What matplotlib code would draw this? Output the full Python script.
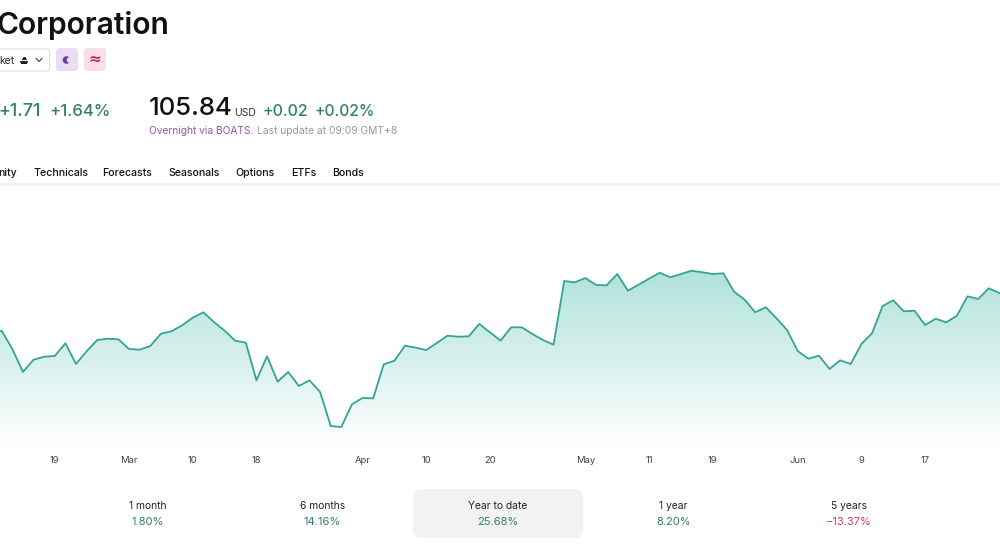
import matplotlib
matplotlib.use('Agg')
import matplotlib.pyplot as plt
import numpy as np
from matplotlib.colors import LinearSegmentedColormap
from matplotlib.patches import Circle, FancyBboxPatch, Polygon, Rectangle

plt.rcParams['font.family'] = ['Inter', 'DejaVu Sans']

# chart level above the baseline, one value per session
levels = [112, 116.3, 98, 75, 87.3, 90.3, 91, 103.7, 83, 95.7, 107, 108.3, 107.7, 98, 97.3, 101,
          113.3, 115.7, 121.7, 129.3, 134.7, 125, 116.3, 106.3, 104.3, 66.7, 90.7, 65.3, 75, 61,
          66.7, 55, 21, 20, 42.7, 49, 48.7, 82.7, 86.3, 101.3, 99.3, 97, 104, 111.3, 110.3, 110.7,
          123, 114.7, 106.3, 119.7, 119.7, 113, 107, 102.3, 166, 164.7, 169, 162, 161.7, 173,
          156.3, 162.3, 168.3, 174.3, 169.7, 173, 176.3, 174.7, 173, 173.7, 155.3, 147.3, 134.7,
          139.7, 128.7, 117, 96, 88.3, 91.3, 78, 86.7, 83, 103, 113.7, 141, 146.7, 135.7, 136.3,
          122, 128.3, 124.7, 131.3, 150.7, 148, 158.7, 154, 151]

tick_idx = [6, 13, 19, 25, 35, 41, 47, 56, 62, 68, 76, 82, 88]
tick_labels = ['19', 'Mar', '10', '18', 'Apr', '10', '20', 'May', '11', '19', 'Jun', '9', '17']

tabs = ['nity', 'Technicals', 'Forecasts', 'Seasonals', 'Options', 'ETFs', 'Bonds']
tab_x = [-1.5, 33.5, 102.5, 168.5, 235.5, 291.5, 332.5]

periods = ['1 month', '6 months', 'Year to date', '1 year', '5 years']
returns = ['1.80%', '14.16%', '25.68%', '8.20%', '\u221213.37%']
period_x = [147.5, 322.5, 498, 673.5, 849]

GREEN = '#2f7f6d'
RED = '#d9395f'
LINE = '#33a592'

fig = plt.figure(figsize=(10, 5.54), dpi=100)

# page furniture, in pixel coordinates
bg = fig.add_axes([0, 0, 1, 1])
bg.set_xlim(0, 1000)
bg.set_ylim(554, 0)
bg.axis('off')

bg.text(-3, 26, 'Corporation', fontsize=21.6, fontweight='semibold', color='#111111', va='center')

# exchange selector and the two badges
bg.add_patch(FancyBboxPatch((-20, 49), 69.5, 22, boxstyle='round,pad=0,rounding_size=3',
                            fc='white', ec='#dddddd', lw=0.8))
bg.text(-1, 60.5, 'ket', fontsize=7.5, color='#222222', va='center')
bg.add_patch(Polygon([[20, 61], [28, 61], [27, 64], [21, 64]], fc='#222222', ec='none'))
bg.add_patch(Polygon([[21.5, 60], [23.5, 57], [25.5, 57], [27, 60]], fc='#222222', ec='none'))
bg.plot([36, 39, 42], [58.5, 61.5, 58.5], color='#222222', lw=0.7)

bg.add_patch(FancyBboxPatch((56, 48), 22, 23, boxstyle='round,pad=0,rounding_size=4',
                            fc='#ecdcf3', ec='none'))
bg.add_patch(Circle((66.5, 60), 3.8, fc='#6a3d9a', ec='none'))
bg.add_patch(Circle((69.5, 60), 2.8, fc='#ecdcf3', ec='none'))
bg.add_patch(FancyBboxPatch((84, 48), 22, 23, boxstyle='round,pad=0,rounding_size=4',
                            fc='#fbdde6', ec='none'))
bg.text(95, 59.5, '\u2248', fontsize=11, color='#c2285a', ha='center', va='center',
        family='DejaVu Sans', fontweight='bold')

# quote block
bg.text(-2, 111, '+1.71', fontsize=13, fontweight='medium', color=GREEN, va='center')
bg.text(49, 111, '+1.64%', fontsize=12.1, fontweight='medium', color=GREEN, va='center')
bg.text(149, 108.5, '105.84', fontsize=18.5, fontweight='medium', color='#111111', va='center')
bg.text(234, 113, 'USD', fontsize=7.5, color='#333333', va='center')
bg.text(263, 111, '+0.02', fontsize=11.5, fontweight='medium', color=GREEN, va='center')
bg.text(314.5, 111, '+0.02%', fontsize=11.2, fontweight='medium', color=GREEN, va='center')
bg.text(149, 130.5, 'Overnight via BOATS.', fontsize=7.35, color='#9c4fb5', va='center')
bg.text(257, 130.5, 'Last update at 09:09 GMT+8', fontsize=7.4, color='#999999', va='center')

for label, x in zip(tabs, tab_x):
    bg.text(x, 172.5, label, fontsize=7.6, fontweight='medium', color='#111111', va='center')
bg.add_patch(Rectangle((0, 182.5), 1000, 3, fc='#f1f1f1', ec='none'))

# period returns
bg.add_patch(FancyBboxPatch((413, 489), 170, 49, boxstyle='round,pad=0,rounding_size=9',
                            fc='#f2f2f2', ec='none'))
for label, value, x in zip(periods, returns, period_x):
    bg.text(x, 506, label, fontsize=7.4, color='#222222', ha='center', va='center')
    bg.text(x, 522, value, fontsize=8, color=RED if value.startswith('\u2212') else GREEN,
            ha='center', va='center')

# price chart
ax = fig.add_axes([0, (554 - 447) / 554, 1, (447 - 190) / 554])
ax.patch.set_alpha(0)
x = np.arange(len(levels))

cmap = LinearSegmentedColormap.from_list('area', ['#ffffff', '#b0e2da'])
grad = ax.imshow(np.linspace(1, 0, 256).reshape(-1, 1), extent=[0, len(levels), 0, 177], cmap=cmap,
                 aspect='auto', vmin=0, vmax=1, zorder=1)
outline = np.vstack([[x[0], 0], np.column_stack([x, levels]), [x[-1], 0]])
clip = Polygon(outline, transform=ax.transData, fc='none', ec='none')
ax.add_patch(clip)
grad.set_clip_path(clip)
ax.set_xlim(0.84, 95.06)
ax.set_ylim(0, 257)

ax.plot(x, levels, color=LINE, lw=1.3, zorder=2)

ax.set_xticks(tick_idx)
ax.set_xticklabels(tick_labels, fontsize=6.8, color='#444444')
ax.tick_params(axis='x', length=0, pad=6.5)
ax.set_yticks([])
for side in ax.spines:
    ax.spines[side].set_visible(False)

plt.savefig('out.png', dpi=100)
